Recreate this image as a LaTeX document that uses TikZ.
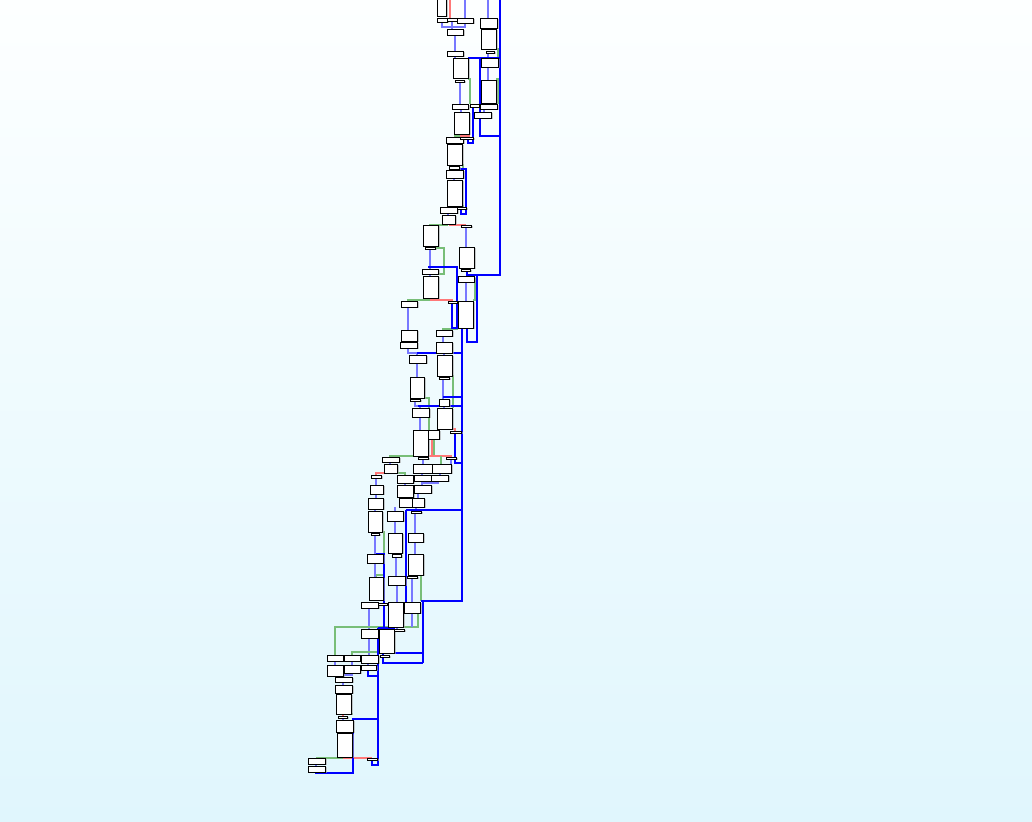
\documentclass[tikz,border=0pt]{standalone}
\usetikzlibrary{shadows}
\definecolor{bgtop}{RGB}{253,255,255}
\definecolor{bgbot}{RGB}{224,246,253}
\definecolor{eblue}{RGB}{120,120,255}
\definecolor{egreen}{RGB}{120,190,120}
\definecolor{ered}{RGB}{255,120,120}
\definecolor{tblue}{RGB}{0,0,255}
\tikzset{
  blk/.style={draw=black,fill=white,line width=0.9pt,inner sep=0pt,
    drop shadow={shadow xshift=1.6pt,shadow yshift=-1.2pt,fill=gray!70,opacity=0.6}},
  be/.style={draw=eblue,line width=1.3pt},
  ge/.style={draw=egreen,line width=1.3pt},
  re/.style={draw=ered,line width=1.3pt},
  tb/.style={draw=tblue,line width=2.1pt},
}
\newcommand\bx[5]{\node[blk,minimum width=#4pt-#2pt,minimum height=#5pt-#3pt] (#1) at ({(#2+#4)/2},{(#3+#5)/2}) {};}
\begin{document}
\begin{tikzpicture}[x=1pt,y=-1pt]
\useasboundingbox (0,0) rectangle (1032,821);
\shade[top color=bgtop,bottom color=bgbot] (0,0) rectangle (1032,821);
\clip (0,0) rectangle (1032,821);
% ---------- thin edges ----------
\draw[be] (442,22)--(442,27)--(465,27)--(465,23);
\draw[be] (452,21)--(452,29);
\draw[be] (465,-2)--(465,18);
\draw[re] (450,-2)--(450,18);
\draw[be] (488,-2)--(488,18);
\draw[be] (455,35)--(455,51);
\draw[be] (455,56)--(455,58);
\draw[be] (488,53)--(488,58);
\draw[be] (488,67)--(488,80);
\draw[ge] (496,49)--(498,49)--(498,58);
\draw[ge] (496,79)--(498,79)--(498,104);
\draw[be] (460,82)--(460,104);
\draw[ge] (468,79)--(470,79)--(470,104);
\draw[be] (461,109)--(461,112);
\draw[be] (484,109)--(484,112);
\draw[ge] (454,136)--(462,136);
\draw[re] (460,136)--(470,136);
\draw[be] (454,143)--(454,144);
\draw[ge] (462,165)--(463,165)--(463,170);
\draw[be] (454,169)--(454,170);
\draw[be] (454,178)--(454,180);
\draw[ge] (462,206)--(463,206)--(463,207);
\draw[be] (448,213)--(448,215);
\draw[ge] (447,224)--(447,225)--(429,225);
\draw[re] (449,225)--(466,225);
\draw[be] (466,227)--(466,247);
\draw[be] (430,249)--(430,269);
\draw[ge] (435,248)--(444,248)--(444,274)--(438,274);
\draw[be] (430,274)--(430,276);
\draw[be] (466,282)--(466,301);
\draw[ge] (474,279)--(475,279)--(475,300)--(473,300);
\draw[ge] (430,298)--(430,300)--(408,300)--(408,301);
\draw[re] (430,300)--(452,300)--(452,301);
\draw[be] (408,307)--(408,330);
\draw[ge] (458,329)--(443,329)--(443,330);
\draw[be] (443,336)--(443,342);
\draw[be] (408,341)--(408,342);
\draw[be] (408,348)--(408,353)--(417,353)--(417,355);
\draw[be] (444,353)--(444,355);
\draw[be] (417,363)--(417,377);
\draw[ge] (452,376)--(453,376)--(453,408);
\draw[be] (443,379)--(443,399);
\draw[ge] (424,398)--(429,398)--(429,430);
\draw[be] (415,401)--(415,406)--(420,406)--(420,408);
\draw[be] (420,416)--(420,430);
\draw[be] (444,406)--(444,408);
\draw[ge] (440,429)--(449,429);
\draw[re] (449,429)--(455,429)--(455,431);
\draw[re] (432,439)--(432,456);
\draw[ge] (434,439)--(434,456);
\draw[ge] (420,456)--(390,456)--(390,457);
\draw[re] (420,456)--(451,456)--(451,457);
\draw[ge] (441,456)--(441,464);
\draw[be] (423,459)--(423,464);
\draw[be] (451,459)--(451,464);
\draw[be] (390,462)--(390,464);
\draw[re] (384,473)--(376,473)--(376,475);
\draw[ge] (397,473)--(405,473)--(405,475);
\draw[be] (376,478)--(376,485);
\draw[be] (405,483)--(405,485);
\draw[be] (422,473)--(422,475);
\draw[be] (440,473)--(440,475);
\draw[be] (422,481)--(422,485);
\draw[be] (438,481)--(438,483)--(422,483);
\draw[be] (376,494)--(376,498);
\draw[be] (405,497)--(405,498);
\draw[be] (418,493)--(418,498);
\draw[be] (375,509)--(375,511);
\draw[be] (395,507)--(395,511);
\draw[be] (416,507)--(416,511);
\draw[be] (375,535)--(375,554);
\draw[ge] (382,532)--(384,532)--(384,575)--(376,575)--(376,577);
\draw[be] (395,521)--(395,533);
\draw[be] (396,557)--(396,576);
\draw[be] (415,513)--(415,533);
\draw[be] (415,542)--(415,554);
\draw[be] (375,563)--(375,577);
\draw[ge] (421,576)--(421,601);
\draw[be] (412,578)--(412,602);
\draw[be] (397,585)--(397,602);
\draw[re] (374,600)--(382,600);
\draw[be] (369,608)--(369,629);
\draw[ge] (335,655)--(335,627)--(418,627)--(418,612);
\draw[be] (412,612)--(412,627);
\draw[be] (397,627)--(397,629);
\draw[be] (369,638)--(369,655);
\draw[ge] (352,655)--(352,652)--(379,652);
\draw[be] (335,661)--(335,665);
\draw[be] (352,661)--(352,665);
\draw[be] (368,663)--(368,665);
\draw[be] (352,673)--(352,675)--(343,675)--(343,677);
\draw[be] (343,682)--(343,685);
\draw[be] (343,693)--(343,694);
\draw[ge] (351,714)--(353,714);
\draw[re] (343,714)--(343,716);
\draw[be] (343,718)--(343,720);
\draw[be] (344,732)--(344,733);
\draw[ge] (343,756)--(343,758)--(316,758);
\draw[re] (343,758)--(372,758);
\draw[be] (316,764)--(316,766);
% ---------- thick back edges ----------
\draw[tb] (500,-2)--(500,275)--(467,275)--(467,271);
\draw[tb] (468,58)--(500,58);
\draw[tb] (480,58)--(480,136)--(500,136);
\draw[tb] (473,107)--(480,107);
\draw[tb] (473,107)--(473,143)--(468,143)--(468,138);
\draw[tb] (453,169)--(466,169)--(466,214)--(461,214)--(461,209);
\draw[tb] (428,267)--(457,267)--(457,328)--(452,328)--(452,303);
\draw[tb] (477,275)--(477,342)--(467,342)--(467,328);
\draw[tb] (417,353)--(462,353);
\draw[tb] (462,328)--(462,601)--(421,601);
\draw[tb] (443,397)--(462,397);
\draw[tb] (418,406)--(462,406);
\draw[tb] (455,433)--(455,463)--(462,463);
\draw[tb] (406,510)--(462,510);
\draw[tb] (406,510)--(406,602);
\draw[tb] (376,554)--(384,554)--(384,628);
\draw[tb] (378,628)--(395,628);
\draw[tb] (378,628)--(378,765)--(372,765)--(372,760);
\draw[tb] (379,653)--(423,653);
\draw[tb] (383,653)--(383,663)--(423,663);
\draw[tb] (423,601)--(423,663);
\draw[tb] (368,670)--(368,676)--(378,676);
\draw[tb] (352,719)--(378,719);
\draw[tb] (353,719)--(353,773)--(316,773)--(316,772);
% ---------- blocks ----------
\bx{b1}{437}{-10}{446}{16}
\bx{b2}{437}{18}{447}{22}
\bx{b3}{447}{18}{457}{21}
\bx{b4}{457}{18}{473}{23}
\bx{b5}{447}{29}{463}{35}
\bx{b6}{447}{51}{463}{56}
\bx{b7}{453}{58}{468}{78}
\bx{b8}{455}{80}{464}{82}
\bx{b9}{452}{104}{468}{109}
\bx{b10}{470}{104}{479}{107}
\bx{b11}{454}{112}{469}{134}
\bx{b12}{446}{137}{463}{143}
\bx{b13}{460}{137}{473}{139}
\bx{b14}{480}{18}{497}{28}
\bx{b15}{481}{29}{496}{49}
\bx{b16}{486}{51}{494}{53}
\bx{b17}{481}{58}{498}{67}
\bx{b18}{481}{80}{496}{103}
\bx{b19}{480}{104}{497}{109}
\bx{b20}{474}{112}{491}{118}
\bx{b21}{447}{144}{462}{165}
\bx{b22}{449}{166}{459}{169}
\bx{b23}{446}{170}{463}{178}
\bx{b24}{447}{180}{462}{206}
\bx{b25}{440}{207}{457}{213}
\bx{b26}{457}{207}{466}{209}
\bx{b27}{442}{215}{455}{224}
\bx{b28}{461}{225}{471}{227}
\bx{b29}{423}{225}{438}{246}
\bx{b30}{425}{247}{435}{249}
\bx{b31}{459}{247}{474}{268}
\bx{b32}{461}{269}{470}{271}
\bx{b33}{422}{269}{438}{274}
\bx{b34}{423}{276}{438}{298}
\bx{b35}{448}{301}{457}{303}
\bx{b36}{401}{301}{417}{307}
\bx{b37}{458}{301}{473}{328}
\bx{b38}{458}{276}{474}{282}
\bx{b39}{401}{330}{417}{341}
\bx{b40}{400}{342}{417}{348}
\bx{b41}{436}{330}{452}{336}
\bx{b42}{436}{342}{452}{353}
\bx{b43}{409}{355}{426}{363}
\bx{b44}{437}{355}{452}{376}
\bx{b45}{439}{377}{449}{379}
\bx{b46}{410}{377}{424}{398}
\bx{b47}{410}{399}{420}{401}
\bx{b48}{439}{399}{449}{406}
\bx{b49}{412}{408}{429}{417}
\bx{b50}{437}{408}{452}{429}
\bx{b51}{413}{430}{428}{456}
\bx{b52}{428}{430}{439}{439}
\bx{b53}{450}{431}{461}{433}
\bx{b54}{382}{457}{399}{462}
\bx{b55}{418}{457}{428}{459}
\bx{b56}{446}{457}{456}{459}
\bx{b57}{384}{464}{397}{473}
\bx{b58}{371}{475}{381}{478}
\bx{b59}{413}{464}{432}{473}
\bx{b60}{432}{464}{451}{473}
\bx{b61}{397}{475}{413}{483}
\bx{b62}{414}{475}{431}{481}
\bx{b63}{431}{475}{448}{481}
\bx{b64}{370}{485}{383}{494}
\bx{b65}{397}{485}{413}{497}
\bx{b66}{414}{485}{431}{493}
\bx{b67}{368}{498}{383}{509}
\bx{b68}{399}{498}{412}{507}
\bx{b69}{412}{498}{424}{507}
\bx{b70}{387}{511}{403}{521}
\bx{b71}{411}{511}{421}{513}
\bx{b72}{368}{511}{382}{532}
\bx{b73}{371}{533}{379}{535}
\bx{b74}{388}{533}{402}{553}
\bx{b75}{392}{554}{401}{557}
\bx{b76}{367}{554}{383}{563}
\bx{b77}{408}{533}{423}{542}
\bx{b78}{408}{554}{423}{575}
\bx{b79}{407}{576}{417}{578}
\bx{b80}{369}{577}{383}{600}
\bx{b81}{388}{576}{405}{585}
\bx{b82}{361}{602}{378}{608}
\bx{b82a}{378}{603}{387}{605}
\bx{b83}{388}{602}{403}{627}
\bx{b84}{404}{602}{420}{613}
\bx{b85}{361}{629}{378}{638}
\bx{b86}{379}{629}{394}{653}
\bx{b87}{394}{629}{404}{631}
\bx{b88}{327}{655}{343}{661}
\bx{b89}{344}{655}{360}{661}
\bx{b90}{361}{655}{378}{663}
\bx{b91}{380}{655}{389}{657}
\bx{b92}{327}{665}{343}{676}
\bx{b93}{344}{665}{360}{673}
\bx{b94}{361}{665}{376}{670}
\bx{b95}{335}{677}{352}{682}
\bx{b96}{335}{685}{352}{693}
\bx{b97}{336}{694}{351}{714}
\bx{b98}{338}{716}{347}{718}
\bx{b99}{336}{720}{353}{732}
\bx{b100}{337}{733}{352}{757}
\bx{b101}{308}{758}{325}{764}
\bx{b102}{308}{766}{325}{772}
\bx{b103}{367}{758}{377}{760}
\end{tikzpicture}
\end{document}
